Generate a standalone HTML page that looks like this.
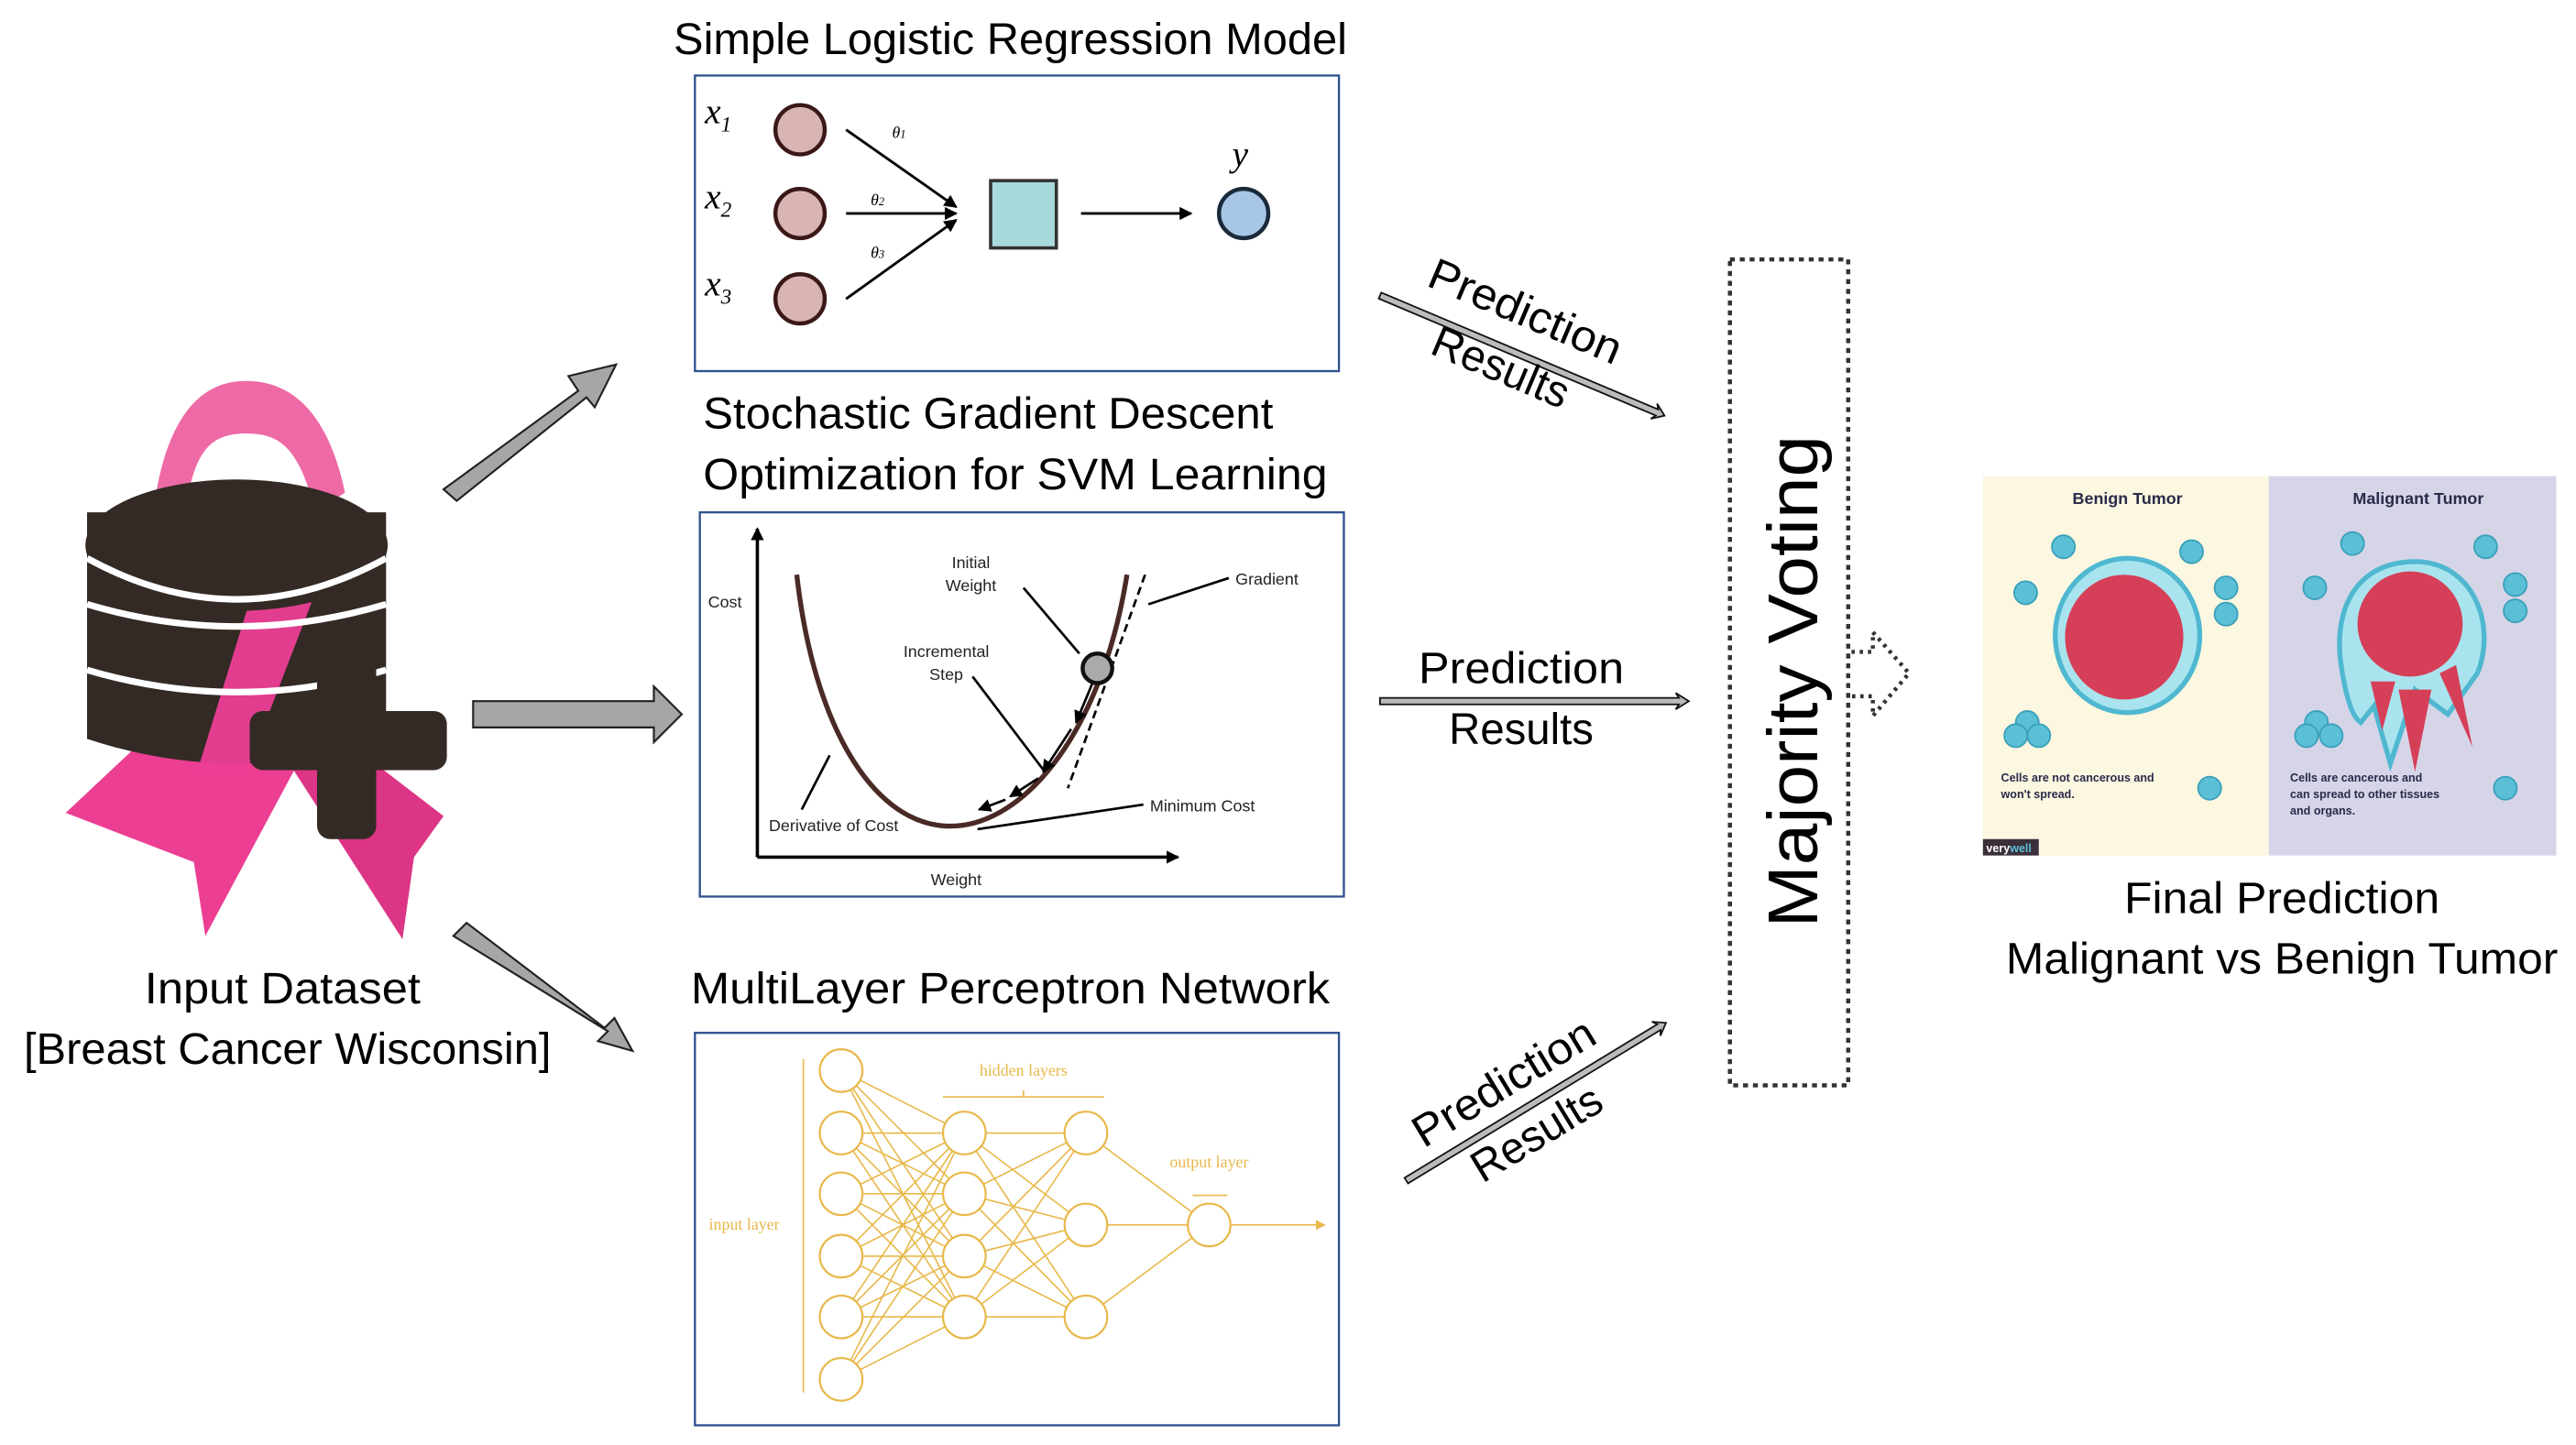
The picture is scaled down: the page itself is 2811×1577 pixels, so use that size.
<!DOCTYPE html>
<html><head><meta charset="utf-8"><style>
html,body{margin:0;padding:0;background:#fff;}
svg{display:block;}
text{font-family:"Liberation Sans","DejaVu Sans",sans-serif;}
text.serif{font-family:"Liberation Serif","DejaVu Serif",serif;}
</style></head><body>
<svg width="2811" height="1577" viewBox="0 0 1568 880" preserveAspectRatio="none" xmlns="http://www.w3.org/2000/svg">
<defs>
<marker id="ah" markerWidth="8" markerHeight="8" refX="7" refY="4" orient="auto" markerUnits="userSpaceOnUse"><path d="M0,0 L8,4 L0,8 z" fill="#000"/></marker>
<marker id="ahy" markerWidth="6" markerHeight="6" refX="5" refY="3" orient="auto" markerUnits="userSpaceOnUse"><path d="M0,0 L6,3 L0,6 z" fill="#e8b84a"/></marker>
</defs>

<!-- Logo -->
<g>
  <path d="M95,300 C105,245 128,232 150,232 C178,232 200,252 210,300 L192,312 C182,272 170,264 150,264 C130,264 118,272 113,312 z" fill="#ee6aa7"/>
  <path d="M40,495 L120,420 L200,430 L125,570 L118,525 z" fill="#ec3e93"/>
  <path d="M170,420 L270,497 L252,522 L245,572 L160,440 z" fill="#dd3585"/>
  <path d="M53,312 L53,450 Q144,480 235,450 L235,312 z" fill="#332a25"/>
  <path d="M120,470 L160,340 L200,340 L150,470 z" fill="#ec3e93" opacity="0.95"/>
  <path d="M53,368 Q144,395 235,368" stroke="#fff" stroke-width="4" fill="none"/>
  <path d="M53,408 Q144,435 235,408" stroke="#fff" stroke-width="4" fill="none"/>
  <ellipse cx="144" cy="332" rx="92" ry="40" fill="#332a25"/>
  <path d="M53,340 Q144,390 235,340" stroke="#fff" stroke-width="4" fill="none"/>
  <rect x="193" y="393" width="36" height="118" rx="8" fill="#332a25"/>
  <rect x="152" y="433" width="120" height="36" rx="8" fill="#332a25"/>
</g>
<text x="172" y="611" font-size="27" text-anchor="middle" textLength="168" lengthAdjust="spacingAndGlyphs">Input Dataset</text>
<text x="175" y="648" font-size="27" text-anchor="middle" textLength="321" lengthAdjust="spacingAndGlyphs">[Breast Cancer Wisconsin]</text>

<!-- block arrows -->
<g fill="#a6a6a6" stroke="#222" stroke-width="1.2">
  <path d="M270,298 L352,238 L346,229 L375,222 L362,248 L357,242 L278,305 z"/>
  <path d="M288,427 L398,427 L398,418 L415,435 L398,452 L398,443 L288,443 z"/>
  <path d="M276,570 L370,628 L364,634 L385,640 L374,620 L368,626 L284,562 z"/>
</g>

<!-- Box 1: Logistic Regression -->
<text x="615" y="33" font-size="27" text-anchor="middle" textLength="410" lengthAdjust="spacingAndGlyphs">Simple Logistic Regression Model</text>
<rect x="423" y="46" width="392" height="180" fill="#fff" stroke="#2f528f" stroke-width="1.3"/>
<g font-style="italic" font-size="22">
 <text class="serif" x="429" y="75">x<tspan font-size="13" dy="5">1</tspan></text>
 <text class="serif" x="429" y="127">x<tspan font-size="13" dy="5">2</tspan></text>
 <text class="serif" x="429" y="180">x<tspan font-size="13" dy="5">3</tspan></text>
 <text class="serif" x="750" y="101">y</text>
 <text class="serif" x="543" y="84" font-size="10">θ<tspan font-size="7">1</tspan></text>
 <text class="serif" x="530" y="125" font-size="10">θ<tspan font-size="7">2</tspan></text>
 <text class="serif" x="530" y="157" font-size="10">θ<tspan font-size="7">3</tspan></text>
</g>
<g fill="#d8b4b4" stroke="#3a1818" stroke-width="2.5">
 <circle cx="487" cy="79" r="15"/><circle cx="487" cy="130" r="15"/><circle cx="487" cy="182" r="15"/>
</g>
<g stroke="#000" stroke-width="1.6" marker-end="url(#ah)">
 <line x1="515" y1="79" x2="582" y2="126"/>
 <line x1="515" y1="130" x2="582" y2="130"/>
 <line x1="515" y1="182" x2="582" y2="134"/>
 <line x1="658" y1="130" x2="725" y2="130"/>
</g>
<rect x="603" y="110" width="40" height="41" fill="#a9dadb" stroke="#333" stroke-width="2"/>
<circle cx="757" cy="130" r="15" fill="#a8c6e6" stroke="#1a2a3a" stroke-width="2.5"/>

<!-- Box 2: SGD -->
<text x="428" y="261" font-size="27" textLength="347" lengthAdjust="spacingAndGlyphs">Stochastic Gradient Descent</text>
<text x="428" y="298" font-size="27" textLength="380" lengthAdjust="spacingAndGlyphs">Optimization for SVM Learning</text>
<rect x="426" y="312" width="392" height="234" fill="#fff" stroke="#2f528f" stroke-width="1.3"/>
<line x1="461" y1="522" x2="461" y2="322" stroke="#000" stroke-width="2" marker-end="url(#ah)"/>
<line x1="461" y1="522" x2="717" y2="522" stroke="#000" stroke-width="2" marker-end="url(#ah)"/>
<path d="M485,350 C495,440 530,500 575,503 C620,506 670,450 686,350" fill="none" stroke="#4a2a24" stroke-width="3"/>
<line x1="697" y1="350" x2="650" y2="480" stroke="#000" stroke-width="1.5" stroke-dasharray="5,3"/>
<line x1="699" y1="368" x2="748" y2="352" stroke="#000" stroke-width="1.5"/>
<line x1="623" y1="358" x2="657" y2="398" stroke="#000" stroke-width="1.5"/>
<line x1="592" y1="412" x2="636" y2="470" stroke="#000" stroke-width="1.5"/>
<line x1="505" y1="460" x2="488" y2="493" stroke="#000" stroke-width="1.5"/>
<line x1="595" y1="505" x2="696" y2="490" stroke="#000" stroke-width="1.5"/>
<g stroke="#000" stroke-width="1.5" marker-end="url(#ah)">
 <line x1="665" y1="416" x2="655" y2="440"/>
 <line x1="652" y1="444" x2="635" y2="470"/>
 <line x1="632" y1="474" x2="615" y2="485"/>
 <line x1="612" y1="487" x2="596" y2="493"/>
</g>
<circle cx="668" cy="407" r="9" fill="#aaa" stroke="#111" stroke-width="2.5"/>
<g font-size="10" fill="#222">
 <text x="431" y="370">Cost</text>
 <text x="591" y="346" text-anchor="middle">Initial</text>
 <text x="591" y="360" text-anchor="middle">Weight</text>
 <text x="576" y="400" text-anchor="middle">Incremental</text>
 <text x="576" y="414" text-anchor="middle">Step</text>
 <text x="752" y="356">Gradient</text>
 <text x="700" y="494">Minimum Cost</text>
 <text x="468" y="506">Derivative of Cost</text>
 <text x="582" y="539" text-anchor="middle">Weight</text>
</g>

<!-- Box 3: MLP -->
<text x="615" y="611" font-size="27" text-anchor="middle" textLength="389" lengthAdjust="spacingAndGlyphs">MultiLayer Perceptron Network</text>
<rect x="423" y="629" width="392" height="239" fill="#fff" stroke="#2f528f" stroke-width="1.3"/>
<g stroke="#e8b84a" stroke-width="0.9" fill="none">
 <path d="M489,645 L489,848"/>
 <path d="M574,668 L672,668 M623,668 L623,664"/>
 <path d="M726,728 L747,728"/>
  <path d="M512,652 L587,690 M512,652 L587,727 M512,652 L587,765 M512,652 L587,802
  M512,690 L587,690 M512,690 L587,727 M512,690 L587,765 M512,690 L587,802
  M512,727 L587,690 M512,727 L587,727 M512,727 L587,765 M512,727 L587,802
  M512,765 L587,690 M512,765 L587,727 M512,765 L587,765 M512,765 L587,802
  M512,802 L587,690 M512,802 L587,727 M512,802 L587,765 M512,802 L587,802
  M512,840 L587,690 M512,840 L587,727 M512,840 L587,765 M512,840 L587,802"/>
  <path d="M587,690 L661,690 M587,690 L661,746 M587,690 L661,802
  M587,727 L661,690 M587,727 L661,746 M587,727 L661,802
  M587,765 L661,690 M587,765 L661,746 M587,765 L661,802
  M587,802 L661,690 M587,802 L661,746 M587,802 L661,802"/>
  <path d="M661,690 L736,746 M661,746 L736,746 M661,802 L736,746"/>
 <line x1="749" y1="746" x2="806" y2="746" marker-end="url(#ahy)"/>
</g>
<g fill="#fff" stroke="#e8b84a" stroke-width="1.2">
 <circle cx="512" cy="652" r="13"/><circle cx="512" cy="690" r="13"/><circle cx="512" cy="727" r="13"/>
 <circle cx="512" cy="765" r="13"/><circle cx="512" cy="802" r="13"/><circle cx="512" cy="840" r="13"/>
 <circle cx="587" cy="690" r="13"/><circle cx="587" cy="727" r="13"/><circle cx="587" cy="765" r="13"/><circle cx="587" cy="802" r="13"/>
 <circle cx="661" cy="690" r="13"/><circle cx="661" cy="746" r="13"/><circle cx="661" cy="802" r="13"/>
 <circle cx="736" cy="746" r="13"/>
</g>
<g font-size="10" fill="#e8b84a">
 <text class="serif" x="623" y="655" text-anchor="middle">hidden layers</text>
 <text class="serif" x="736" y="711" text-anchor="middle">output layer</text>
 <text class="serif" x="453" y="749" text-anchor="middle">input layer</text>
</g>

<!-- Prediction arrows -->
<g fill="#bbb" stroke="#111" stroke-width="1">
 <g transform="translate(840,180) rotate(22.9)">
  <path d="M0,-2 L183,-2 L181,-5 L188,0 L181,5 L183,2 L0,2 z"/>
 </g>
 <path d="M840,425 L1022,425 L1020,422 L1028,427 L1020,432 L1022,429 L840,429 z"/>
 <g transform="translate(856,719) rotate(-31.3)">
  <path d="M0,-2 L180,-2 L178,-5 L185,0 L178,5 L180,2 L0,2 z"/>
 </g>
</g>
<g font-size="27">
 <text transform="translate(925,198) rotate(22.9)" text-anchor="middle" textLength="125" lengthAdjust="spacingAndGlyphs">Prediction</text>
 <text transform="translate(910,232) rotate(22.9)" text-anchor="middle" textLength="88" lengthAdjust="spacingAndGlyphs">Results</text>
 <text x="926" y="416" text-anchor="middle" textLength="125" lengthAdjust="spacingAndGlyphs">Prediction</text>
 <text x="926" y="453" text-anchor="middle" textLength="88" lengthAdjust="spacingAndGlyphs">Results</text>
 <text transform="translate(920,667) rotate(-31.3)" text-anchor="middle" textLength="125" lengthAdjust="spacingAndGlyphs">Prediction</text>
 <text transform="translate(940,698) rotate(-31.3)" text-anchor="middle" textLength="88" lengthAdjust="spacingAndGlyphs">Results</text>
</g>

<!-- Majority voting -->
<rect x="1053" y="158" width="72" height="503" fill="none" stroke="#333" stroke-width="2.5" stroke-dasharray="3,3"/>
<text transform="translate(1106,415) rotate(-90)" font-size="43" text-anchor="middle" textLength="300" lengthAdjust="spacingAndGlyphs">Majority Voting</text>
<path d="M1127,397 L1140,397 L1140,385 L1162,410 L1140,436 L1140,424 L1127,424" fill="none" stroke="#333" stroke-width="2.5" stroke-dasharray="2,3"/>

<!-- Tumor image -->
<rect x="1207" y="290" width="174" height="231" fill="#fbf7e0"/>
<rect x="1381" y="290" width="175" height="231" fill="#d6d5e8"/>
<text x="1295" y="307" font-size="10" font-weight="bold" fill="#2a2a4a" text-anchor="middle">Benign Tumor</text>
<text x="1472" y="307" font-size="10" font-weight="bold" fill="#2a2a4a" text-anchor="middle">Malignant Tumor</text>
<ellipse cx="1295" cy="387" rx="44" ry="47" fill="#a9e4ee" stroke="#4fb8d0" stroke-width="3"/>
<ellipse cx="1293" cy="388" rx="36" ry="38" fill="#d63f58"/>
<path d="M1470,342 C1435,342 1420,370 1425,405 C1428,425 1432,437 1437,440 L1445,430 L1455,465 L1470,420 L1490,435 L1508,410 C1520,380 1505,342 1470,342 z" fill="#a9e4ee" stroke="#4fb8d0" stroke-width="3"/>
<ellipse cx="1467" cy="380" rx="32" ry="32" fill="#d63f58"/>
<path d="M1460,420 L1470,470 L1480,420 z M1485,410 L1505,455 L1495,405 z M1443,415 L1450,445 L1458,415 z" fill="#d63f58"/>
<g fill="#5bbfd6" stroke="#3aa0ba" stroke-width="1">
 <circle cx="1256" cy="333" r="7"/><circle cx="1334" cy="336" r="7"/><circle cx="1233" cy="361" r="7"/>
 <circle cx="1355" cy="358" r="7"/><circle cx="1355" cy="374" r="7"/><circle cx="1234" cy="440" r="7"/>
 <circle cx="1227" cy="448" r="7"/><circle cx="1241" cy="448" r="7"/><circle cx="1345" cy="480" r="7"/>
 <circle cx="1432" cy="331" r="7"/><circle cx="1513" cy="333" r="7"/><circle cx="1409" cy="358" r="7"/>
 <circle cx="1531" cy="356" r="7"/><circle cx="1531" cy="372" r="7"/><circle cx="1410" cy="440" r="7"/>
 <circle cx="1404" cy="448" r="7"/><circle cx="1419" cy="448" r="7"/><circle cx="1525" cy="480" r="7"/>
</g>
<g font-size="7" fill="#2a2a4a" font-weight="bold">
 <text x="1218" y="476">Cells are not cancerous and</text>
 <text x="1218" y="486">won't spread.</text>
 <text x="1394" y="476">Cells are cancerous and</text>
 <text x="1394" y="486">can spread to other tissues</text>
 <text x="1394" y="496">and organs.</text>
</g>
<rect x="1207" y="511" width="34" height="10" fill="#3a2f3a"/>
<text x="1209" y="519" font-size="7" fill="#fff" font-weight="bold">very<tspan fill="#5bbfd6">well</tspan></text>
<text x="1389" y="556" font-size="27" text-anchor="middle" textLength="192" lengthAdjust="spacingAndGlyphs">Final Prediction</text>
<text x="1389" y="593" font-size="27" text-anchor="middle" textLength="336" lengthAdjust="spacingAndGlyphs">Malignant vs Benign Tumor</text>
</svg>
</body></html>
